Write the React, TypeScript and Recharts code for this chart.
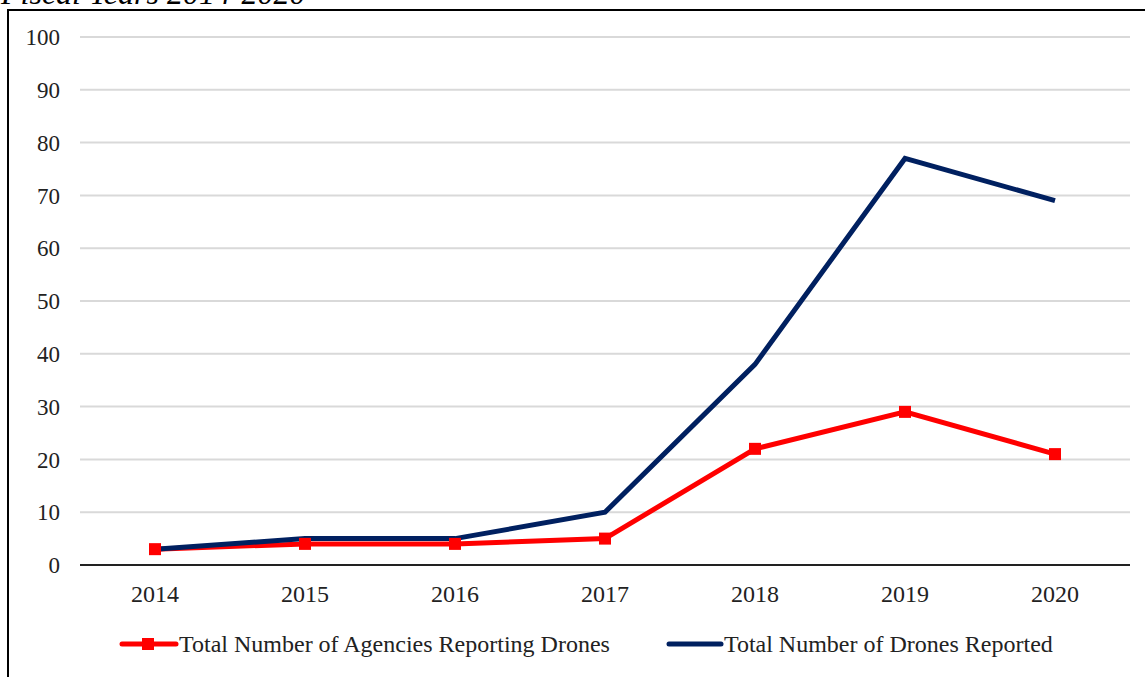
import { LineChart, Line, XAxis, YAxis, CartesianGrid, Legend } from 'recharts';

const years = ['2014', '2015', '2016', '2017', '2018', '2019', '2020'];
const agencies = [3, 4, 4, 5, 22, 29, 21];
const drones = [3, 5, 5, 10, 38, 77, 69];
const yTicks = [0, 10, 20, 30, 40, 50, 60, 70, 80, 90, 100];

const AGENCY_LABEL = 'Total Number of Agencies Reporting Drones';
const DRONE_LABEL = 'Total Number of Drones Reported';

const RED = '#ff0000';
const NAVY = '#002060';
const FONT = '"Liberation Serif", "Times New Roman", serif';

const data = years.map((year, i) => ({ year, agencies: agencies[i], drones: drones[i] }));

const SquareDot = (props: any) => {
  const { cx, cy } = props;
  if (cx == null || cy == null) return null;
  return <rect x={cx - 6} y={cy - 6} width={12} height={12} fill={RED} />;
};

function ChartLegend() {
  return (
    <div style={{ display: 'flex', alignItems: 'center', height: 30, fontFamily: FONT, fontSize: 24, color: '#222' }}>
      <svg width={60} height={14} style={{ marginLeft: 119 }}>
        <line x1={3} y1={7} x2={57} y2={7} stroke={RED} strokeWidth={5} strokeLinecap="round" />
        <rect x={23} y={1} width={12} height={12} fill={RED} />
      </svg>
      <span>{AGENCY_LABEL}</span>
      <svg width={58} height={14} style={{ marginLeft: 56 }}>
        <line x1={3} y1={7} x2={55} y2={7} stroke={NAVY} strokeWidth={5} strokeLinecap="round" />
      </svg>
      <span>{DRONE_LABEL}</span>
    </div>
  );
}

export default function App() {
  return (
    <div style={{ position: 'absolute', left: 0, top: 0, width: 1145, height: 677, overflow: 'hidden', background: '#fff' }}>
      <div
        style={{
          position: 'absolute',
          left: 1,
          top: -23,
          fontFamily: FONT,
          fontStyle: 'italic',
          fontSize: 32,
          lineHeight: '32px',
          whiteSpace: 'nowrap',
        }}
      >
        Fiscal Years 2014-2020
      </div>
      <div
        style={{
          position: 'absolute',
          left: 7,
          top: 9,
          width: 1160,
          height: 700,
          border: '2px solid #000',
          boxSizing: 'border-box',
        }}
      />
      <div style={{ position: 'absolute', left: 0, top: 0 }}>
        <LineChart width={1145} height={677} data={data} margin={{ top: 37, right: 15, left: 0, bottom: 18 }}>
          <CartesianGrid vertical={false} stroke="#d9d9d9" strokeWidth={2} />
          <XAxis
            dataKey="year"
            height={64}
            padding={{ left: 75, right: 75 }}
            tickLine={false}
            tickSize={0}
            tickMargin={20}
            axisLine={{ stroke: '#222', strokeWidth: 2 }}
            tick={{ fontFamily: FONT, fontSize: 24, fill: '#222' }}
          />
          <YAxis
            width={80}
            domain={[0, 100]}
            ticks={yTicks}
            interval={0}
            axisLine={false}
            tickLine={false}
            tickSize={0}
            tickMargin={20}
            tick={{ fontFamily: FONT, fontSize: 23, fill: '#222' }}
          />
          <Legend verticalAlign="bottom" content={() => <ChartLegend />} />
          <Line
            dataKey="agencies"
            stroke={RED}
            strokeWidth={5}
            dot={<SquareDot />}
            activeDot={false}
            isAnimationActive={false}
          />
          <Line
            dataKey="drones"
            stroke={NAVY}
            strokeWidth={5}
            dot={false}
            activeDot={false}
            isAnimationActive={false}
          />
        </LineChart>
      </div>
    </div>
  );
}
